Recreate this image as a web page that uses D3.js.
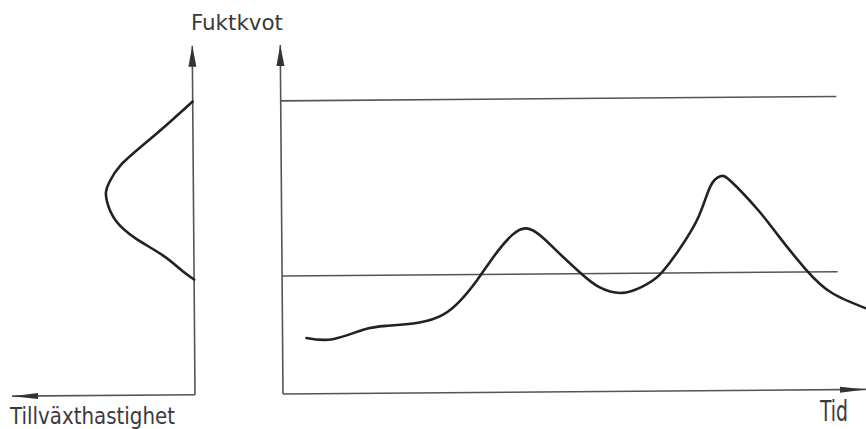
<!DOCTYPE html>
<html>
<head>
<meta charset="utf-8">
<script src="https://cdn.jsdelivr.net/npm/d3@7"></script>
<style>
  html, body { margin: 0; padding: 0; background: #fff; }
  svg { display: block; }
  text { font-family: "Liberation Sans Narrow", "DejaVu Sans Condensed", "Open Sans", sans-serif; fill: #3a3a3a; }
</style>
</head>
<body>
<svg id="chart" width="866" height="429"></svg>
<script>
// ---- Data ----
// Moisture ratio (Fuktkvot) over time (Tid), arbitrary units 0..100
const time     = [4.1, 8.6, 14.0, 18.0, 23.5, 27.5, 30.5, 33.5, 36.5, 39.5, 42.0, 44.5, 47.5, 51.0, 54.4, 58.3, 61.7, 64.7, 68.1, 71.5, 73.6, 75.3, 77.2, 81.8, 85.2, 89.9, 94.3, 100];
const moisture = [16.0, 15.6, 18.3, 19.3, 20.2, 22.3, 26.3, 32.3, 39.3, 45.0, 46.9, 44.6, 39.8, 34.3, 29.9, 28.2, 29.9, 33.2, 40.4, 49.8, 58.6, 61.4, 59.8, 51.5, 44.2, 34.4, 27.7, 23.3];

// Growth rate (Tillväxthastighet) as a function of moisture ratio
const growthMoisture = [84.0, 78.0, 72.0, 66.0, 61.0, 58.2, 55.0, 50.0, 45.0, 40.0, 36.0, 33.0];
const growthRate     = [0.0, 13.0, 26.5, 39.5, 46.0, 47.8, 47.0, 42.5, 32.0, 17.0, 7.5, 0.0];

// Moisture limits (horizontal reference lines)
const limitValues = [84.0, 33.8];
const limitEnd = 95.3;

// Labels
const labelMoisture = "Fuktkvot";
const labelTime = "Tid";
const labelGrowth = "Tillväxthastighet";

// ---- Drawing ----
const svg = d3.select("#chart");
const axisColor = "#555";
const curveColor = "#222";

const x  = d3.scaleLinear().domain([0, 100]).range([283, 866]);
const gx = d3.scaleLinear().domain([0, 100]).range([195, 12]);
const y  = d3.scaleLinear().domain([0, 100]).range([394, 45]);

const defs = svg.append("defs");
defs.append("marker")
  .attr("id", "arrowV").attr("markerUnits", "userSpaceOnUse")
  .attr("viewBox", "0 -5 21 10").attr("refX", 21).attr("refY", 0)
  .attr("markerWidth", 21).attr("markerHeight", 10).attr("orient", "auto")
  .append("path").attr("d", "M0,-4L21,0L0,4Z").attr("fill", "#333");
defs.append("marker")
  .attr("id", "arrowH").attr("markerUnits", "userSpaceOnUse")
  .attr("viewBox", "0 -4 26 8").attr("refX", 26).attr("refY", 0)
  .attr("markerWidth", 26).attr("markerHeight", 8).attr("orient", "auto")
  .append("path").attr("d", "M0,-3L26,0L0,3Z").attr("fill", "#333");

const g = svg.append("g").attr("transform", "rotate(-0.45, 283, 394)");

// Right panel axes
g.append("line")
  .attr("x1", x(0)).attr("y1", y(0)).attr("x2", x(0)).attr("y2", y(100))
  .attr("stroke", axisColor).attr("stroke-width", 1.6).attr("marker-end", "url(#arrowV)");
g.append("line")
  .attr("x1", x(0)).attr("y1", y(0)).attr("x2", x(100)).attr("y2", y(0))
  .attr("stroke", axisColor).attr("stroke-width", 1.6).attr("marker-end", "url(#arrowH)");

// Left panel axes
g.append("line")
  .attr("x1", gx(0)).attr("y1", y(0)).attr("x2", gx(0)).attr("y2", y(100))
  .attr("stroke", axisColor).attr("stroke-width", 1.6).attr("marker-end", "url(#arrowV)");
g.append("line")
  .attr("x1", gx(0)).attr("y1", y(0)).attr("x2", gx(100)).attr("y2", y(0))
  .attr("stroke", axisColor).attr("stroke-width", 1.6).attr("marker-end", "url(#arrowH)");

// Limit lines
g.selectAll("line.limit").data(limitValues).enter().append("line")
  .attr("class", "limit")
  .attr("x1", x(0)).attr("x2", x(limitEnd))
  .attr("y1", d => y(d)).attr("y2", d => y(d))
  .attr("stroke", axisColor).attr("stroke-width", 1.6);

// Moisture curve
const series = time.map((t, i) => [t, moisture[i]]);
g.append("path")
  .datum(series)
  .attr("fill", "none").attr("stroke", curveColor).attr("stroke-width", 2.6)
  .attr("stroke-linecap", "round").attr("stroke-linejoin", "round")
  .attr("d", d3.line().x(d => x(d[0])).y(d => y(d[1])).curve(d3.curveNatural));

// Growth curve
const bell = growthMoisture.map((m, i) => [growthRate[i], m]);
g.append("path")
  .datum(bell)
  .attr("fill", "none").attr("stroke", curveColor).attr("stroke-width", 2.6)
  .attr("stroke-linecap", "round").attr("stroke-linejoin", "round")
  .attr("d", d3.line().x(d => gx(d[0])).y(d => y(d[1])).curve(d3.curveNatural));

// Labels
svg.append("text").text(labelMoisture)
  .attr("x", 191).attr("y", 30).attr("font-size", 21)
  .attr("textLength", 92).attr("lengthAdjust", "spacingAndGlyphs");
svg.append("text").text(labelGrowth)
  .attr("x", 10).attr("y", 424).attr("font-size", 23)
  .attr("textLength", 165).attr("lengthAdjust", "spacingAndGlyphs");
svg.append("text").text(labelTime)
  .attr("x", 820).attr("y", 421).attr("font-size", 28)
  .attr("textLength", 28).attr("lengthAdjust", "spacingAndGlyphs");
</script>
</body>
</html>
